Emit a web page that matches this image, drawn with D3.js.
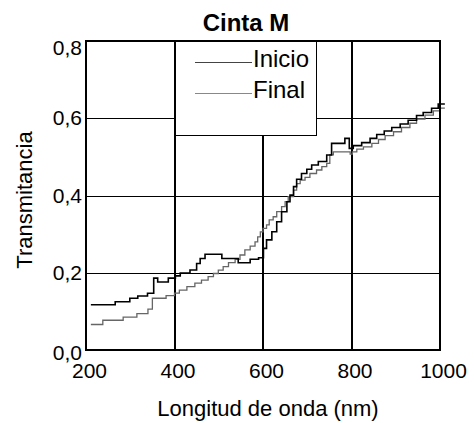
<!DOCTYPE html>
<html>
<head>
<meta charset="utf-8">
<script src="https://cdn.jsdelivr.net/npm/d3@7"></script>
<style>
  body { margin: 0; background: #fff; }
  svg { display: block; font-family: Arial, "Liberation Sans", sans-serif; }
</style>
</head>
<body>
<svg class="chart" width="474" height="423"></svg>
<script>
// 軸刻度
const xTicks = [200, 400, 600, 800, 1000];
const yTicks = [0, 0.2, 0.4, 0.6, 0.8];
const seriesNames = ['Inicio', 'Final'];

// Inicio (curva negra)
const inicioNm = [211, 266, 299, 317, 339, 353, 362, 386, 402, 413,
  435, 450, 458, 469, 507, 544, 571, 590, 601, 608,
  620, 631, 642, 654, 661, 669, 676, 687, 699, 710,
  725, 744, 755, 785, 795, 804, 823, 842, 857, 874,
  891, 910, 928, 947, 962, 981, 996, 1011];
const inicioT = [0.117, 0.125, 0.134, 0.140, 0.147, 0.186, 0.176, 0.186, 0.192, 0.199,
  0.207, 0.224, 0.237, 0.248, 0.237, 0.226, 0.235, 0.239, 0.263, 0.285,
  0.306, 0.332, 0.358, 0.384, 0.401, 0.423, 0.442, 0.457, 0.468, 0.479,
  0.488, 0.505, 0.535, 0.548, 0.522, 0.529, 0.537, 0.548, 0.558, 0.567,
  0.576, 0.585, 0.595, 0.607, 0.615, 0.626, 0.637, 0.637];

// Final (curva gris)
const finalNm = [211, 238, 284, 315, 340, 350, 381, 400, 411,
  428, 446, 461, 476, 488, 499, 510, 522, 537, 548,
  559, 571, 582, 588, 594, 600, 608, 614, 623, 631,
  642, 650, 657, 669, 676, 684, 695, 706, 721, 733,
  744, 751, 759, 797, 802, 812, 827, 846, 861, 876,
  895, 913, 932, 947, 966, 985, 1000, 1011];
const finalT = [0.066, 0.077, 0.085, 0.094, 0.106, 0.134, 0.141, 0.147, 0.155,
  0.164, 0.173, 0.181, 0.190, 0.198, 0.207, 0.216, 0.226, 0.235, 0.246,
  0.259, 0.269, 0.280, 0.293, 0.306, 0.315, 0.324, 0.337, 0.345, 0.358,
  0.371, 0.384, 0.397, 0.414, 0.431, 0.440, 0.447, 0.457, 0.466, 0.475,
  0.483, 0.505, 0.513, 0.507, 0.513, 0.520, 0.526, 0.535, 0.545, 0.555,
  0.565, 0.576, 0.587, 0.598, 0.608, 0.619, 0.626, 0.626];

const svg = d3.select('svg.chart');
const plot = { left: 86, right: 440, top: 41, bottom: 350 };

const x = d3.scaleLinear().domain([200, 1000]).range([plot.left, plot.right]);
const y = d3.scaleLinear().domain([0, 0.8]).range([plot.bottom, plot.top]);

// 0,2 formato con coma decimal
const commaFormat = d3.formatLocale({ decimal: ',', thousands: '.', grouping: [3], currency: ['', ''] }).format('.1f');

// líneas de cuadrícula horizontales (finas)
svg.append('g')
  .attr('shape-rendering', 'crispEdges')
  .selectAll('line')
  .data(yTicks.slice(1, -1))
  .join('line')
  .attr('x1', plot.left)
  .attr('x2', plot.right)
  .attr('y1', d => Math.round(y(d)) + 0.5)
  .attr('y2', d => Math.round(y(d)) + 0.5)
  .attr('stroke', '#000')
  .attr('stroke-width', 1);

// líneas verticales (gruesas)
svg.append('g')
  .attr('shape-rendering', 'crispEdges')
  .selectAll('line')
  .data(xTicks.slice(1, -1))
  .join('line')
  .attr('x1', d => Math.round(x(d)))
  .attr('x2', d => Math.round(x(d)))
  .attr('y1', plot.top)
  .attr('y2', plot.bottom)
  .attr('stroke', '#000')
  .attr('stroke-width', 2);

// caja de la leyenda
const legendBox = { x0: 400, x1: 718, t0: 0.8, t1: 0.556 };
svg.append('rect')
  .attr('shape-rendering', 'crispEdges')
  .attr('x', Math.round(x(legendBox.x0)) + 0.5)
  .attr('y', y(legendBox.t0))
  .attr('width', Math.round(x(legendBox.x1) - x(legendBox.x0)))
  .attr('height', Math.round(y(legendBox.t1) - y(legendBox.t0)) + 0.5)
  .attr('fill', '#fff')
  .attr('stroke', '#000')
  .attr('stroke-width', 1);
// borde izquierdo coincide con la línea de 400
svg.append('line')
  .attr('shape-rendering', 'crispEdges')
  .attr('x1', Math.round(x(400))).attr('x2', Math.round(x(400)))
  .attr('y1', plot.top).attr('y2', y(legendBox.t1))
  .attr('stroke', '#000')
  .attr('stroke-width', 2);

const legendColors = ['#444', '#888'];
const legend = svg.append('g');
seriesNames.forEach((name, i) => {
  const ly = 62.5 + i * 31;
  legend.append('line')
    .attr('x1', 195).attr('x2', 252)
    .attr('y1', ly).attr('y2', ly)
    .attr('stroke', legendColors[i])
    .attr('stroke-width', 1);
  legend.append('text')
    .attr('x', 253)
    .attr('y', ly + 4.5)
    .attr('font-size', '24px')
    .attr('fill', '#000')
    .text(name);
});

// curvas escalonadas
const line = d3.line()
  .x(d => x(d[0]))
  .y(d => y(d[1]))
  .curve(d3.curveStepAfter);

svg.append('path')
  .datum(d3.zip(finalNm, finalT))
  .attr('d', line)
  .attr('fill', 'none')
  .attr('stroke', '#666')
  .attr('stroke-width', 1.3);

svg.append('path')
  .datum(d3.zip(inicioNm, inicioT))
  .attr('d', line)
  .attr('fill', 'none')
  .attr('stroke', '#000')
  .attr('stroke-width', 1.6);

// marco
svg.append('rect')
  .attr('shape-rendering', 'crispEdges')
  .attr('x', plot.left)
  .attr('y', plot.top)
  .attr('width', plot.right - plot.left)
  .attr('height', plot.bottom - plot.top)
  .attr('fill', 'none')
  .attr('stroke', '#000')
  .attr('stroke-width', 2);

// ejes (solo etiquetas)
const xAxis = svg.append('g')
  .attr('transform', `translate(0, ${plot.bottom})`)
  .call(d3.axisBottom(x).tickValues(xTicks).tickSize(0).tickPadding(13).tickFormat(d3.format('d')));
xAxis.select('.domain').remove();
xAxis.selectAll('text')
  .attr('font-size', '21px')
  .attr('font-family', null)
  .attr('fill', '#000')
  .attr('dx', 3);

const yAxis = svg.append('g')
  .attr('transform', `translate(${plot.left}, 0)`)
  .call(d3.axisLeft(y).tickValues(yTicks).tickSize(0).tickPadding(4).tickFormat(commaFormat));
yAxis.select('.domain').remove();
yAxis.selectAll('text')
  .attr('font-size', '21px')
  .attr('font-family', null)
  .attr('fill', '#000')
  .attr('dy', d => d === 0.8 ? '0.65em' : (d === 0 ? '0.45em' : '0.32em'));

// títulos
svg.append('text')
  .attr('x', 246)
  .attr('y', 31)
  .attr('text-anchor', 'middle')
  .attr('font-size', '24px')
  .attr('font-weight', 'bold')
  .text('Cinta M');

svg.append('text')
  .attr('x', 268)
  .attr('y', 416)
  .attr('text-anchor', 'middle')
  .attr('font-size', '22px')
  .text('Longitud de onda (nm)');

svg.append('text')
  .attr('transform', 'translate(32, 200) rotate(-90)')
  .attr('text-anchor', 'middle')
  .attr('font-size', '22px')
  .text('Transmitancia');
</script>
</body>
</html>
